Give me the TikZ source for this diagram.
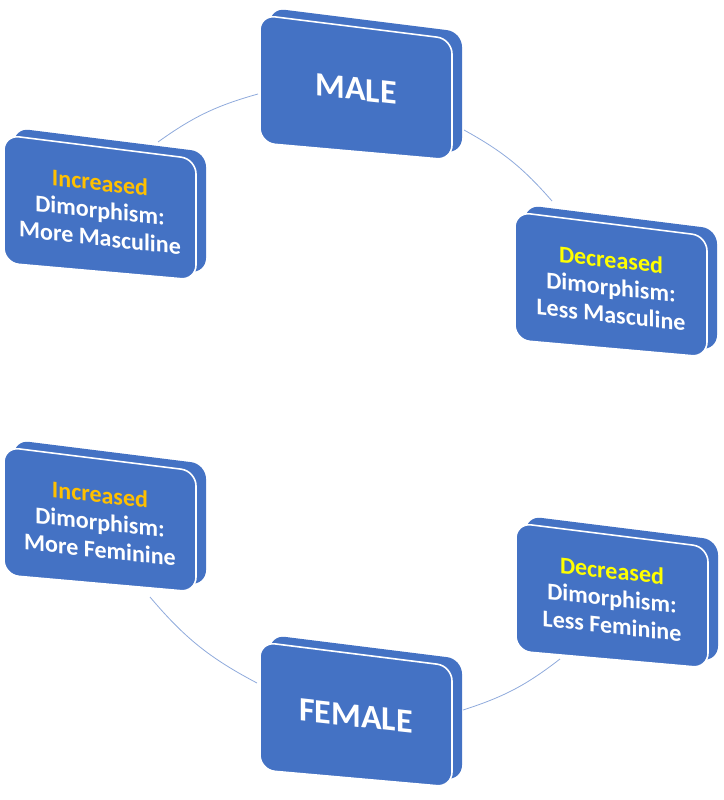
\documentclass[tikz,border=0pt]{standalone}
\usepackage{fontspec}
\setmainfont{Carlito}
\definecolor{boxblue}{HTML}{4472C4}
\definecolor{incgold}{HTML}{FFC000}
\definecolor{decyellow}{HTML}{FFFF00}
\definecolor{arcblue}{HTML}{8FAADC}
\tikzset{
  slab/.style={fill=boxblue, rounded corners=15pt},
  face/.style={fill=boxblue, draw=white, line width=1.6pt, rounded corners=15pt},
  boxtext/.style={text=white, align=center, inner sep=0pt, yslant=-0.11,
    font=\bfseries\fontsize{24}{27.5}\selectfont},
  bigtext/.style={boxtext, font=\bfseries\fontsize{34}{40}\selectfont},
  cyclearc/.style={draw=arcblue, line width=0.8pt}
}
\newcommand\dimbox[4]{%
  \begin{scope}[shift={(#1,#2)}]
    \path[slab] (10,-7) -- (202,17) -- (202,138) -- (10,121) -- cycle;
    \path[face] (0,0) -- (192,24) -- (192,145) -- (0,128) -- cycle;
    #4
  \end{scope}}
\begin{document}
\begin{tikzpicture}[x=1pt,y=-1pt]
\useasboundingbox (0,0) rectangle (723,800);
% connector end points
\coordinate (a1s) at (158,142);
\coordinate (a1e) at (258,94);
\coordinate (a2s) at (464,130);
\coordinate (a2e) at (552,201);
\coordinate (a3s) at (560,659);
\coordinate (a3e) at (463,710);
\coordinate (a4s) at (257,683);
\coordinate (a4e) at (150,597);
\draw[cyclearc] (a1s) to[bend left=10] (a1e);
\draw[cyclearc] (a2s) to[bend left=10] (a2e);
\draw[cyclearc] (a3s) to[bend left=10] (a3e);
\draw[cyclearc] (a4s) to[bend left=11] (a4e);
% boxes
\dimbox{260}{15}{male}{\node[bigtext] (male) at (96,74) {MALE};}
\dimbox{4}{135}{incmasc}{\node[boxtext] (incmasc) at (96,75) {\textcolor{incgold}{Increased}\\Dimorphism:\\More Masculine};}
\dimbox{515}{212}{decmasc}{\node[boxtext] (decmasc) at (96,75) {\textcolor{decyellow}{Decreased}\\Dimorphism:\\Less Masculine};}
\dimbox{4}{447}{incfem}{\node[boxtext] (incfem) at (96,75) {\textcolor{incgold}{Increased}\\Dimorphism:\\More Feminine};}
\dimbox{516}{523}{decfem}{\node[boxtext] (decfem) at (96,75) {\textcolor{decyellow}{Decreased}\\Dimorphism:\\Less Feminine};}
\dimbox{260}{642}{female}{\node[bigtext] (female) at (96,74) {FEMALE};}
\end{tikzpicture}
\end{document}
